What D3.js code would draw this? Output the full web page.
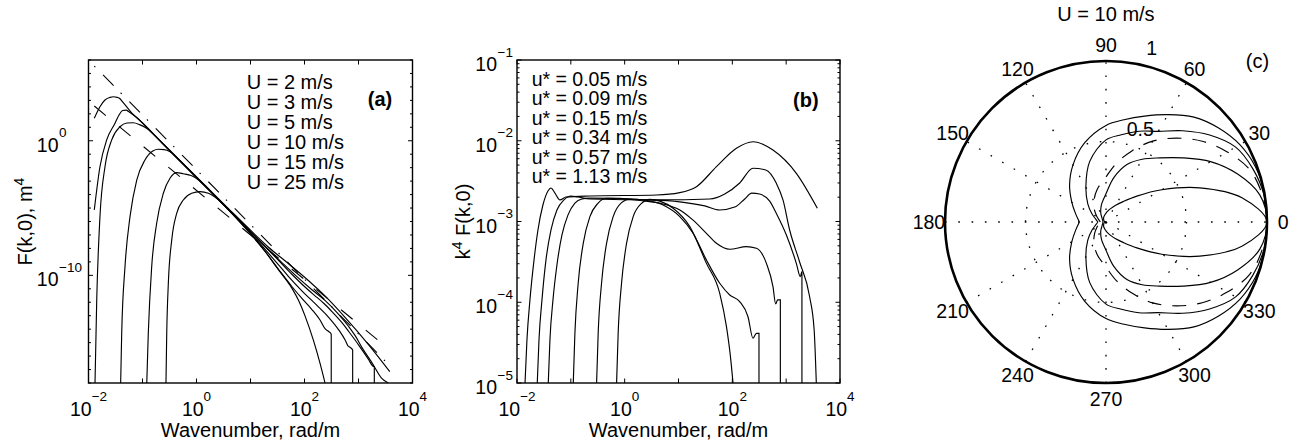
<!DOCTYPE html>
<html>
<head>
<meta charset="utf-8">
<script src="https://cdn.jsdelivr.net/npm/d3@7"></script>
<style>
  html, body { margin: 0; padding: 0; background: #fff; }
  svg { display: block; }
  text { font-family: "Liberation Sans", Arial, Helvetica, sans-serif; fill: #000; }
</style>
</head>
<body>
<svg id="fig" width="1306" height="448"></svg>
<script>
// ---------------- data: panel (a) elevation spectra F(k,0), m^4 ----------------
const windLabels = ["U = 2 m/s", "U = 3 m/s", "U = 5 m/s", "U = 10 m/s", "U = 15 m/s", "U = 25 m/s"];

const kU25 = [0.0128, 0.0163, 0.0202, 0.0251, 0.0288, 0.0339, 0.0383, 0.0428, 0.0507, 0.0628, 0.0811, 0.226, 3.908, 10.57, 21.58, 50.70, 119.1, 242.1, 568.9, 1545, 3793];
const fU25 = [46.8, 339, 1072, 1660, 1862, 1660, 1318, 776, 339, 117, 46.8, 0.794, 9.12e-6, 1.82e-7, 1.23e-8, 7.24e-10, 3.98e-11, 2.82e-12, 7.24e-14, 6.92e-16, 7.08e-18];

const kU15 = [0.0128, 0.0163, 0.0217, 0.0310, 0.0372, 0.0428, 0.0501, 0.0552, 0.0745, 0.1005, 0.1355, 0.226, 4.498, 38.11, 72.28, 137.1, 242.1, 416.9, 657.7, 873.0, 1161, 1778, 2729, 3565];
const fU15 = [7.24e-6, 1.17e-2, 1.15, 20.0, 89.1, 178, 191, 148, 60.3, 20.4, 6.03, 0.724, 4.47e-6, 8.91e-10, 7.94e-11, 8.51e-12, 1.32e-12, 1.45e-13, 1.58e-14, 3.16e-15, 4.27e-16, 3.16e-17, 2.09e-18, 1e-18];

const kU10 = [0.0132, 0.0142, 0.0163, 0.0202, 0.0269, 0.0383, 0.0513, 0.0676, 0.0883, 0.119, 0.161, 0.226, 1.914, 10.57, 30.76, 58.34, 110.9, 169.8, 229.1, 322.1, 494.3, 657.7, 1009, 1545, 1832, 1963, 1963];
const fU10 = [1e-18, 1.48e-12, 2.29e-6, 1.17e-2, 1.15, 11.0, 20.9, 21.9, 15.8, 8.51, 2.88, 0.741, 1.38e-4, 1.41e-7, 1.74e-9, 1.20e-10, 1e-11, 2.29e-12, 8.13e-13, 2.04e-13, 3.02e-14, 6.76e-15, 6.61e-16, 5.37e-17, 1.82e-17, 1.62e-17, 1e-18];

const kU5 = [0.0394, 0.0412, 0.0474, 0.0587, 0.0782, 0.111, 0.158, 0.196, 0.251, 0.318, 0.461, 0.815, 1.914, 5.176, 10.57, 18.66, 33.04, 50.70, 89.54, 182.8, 279.9, 429.5, 568.9, 638.3, 695.0, 779.8, 779.8];
const fU5 = [1e-18, 4.90e-15, 4.37e-10, 2.29e-6, 1.20e-3, 3.72e-2, 0.182, 0.234, 0.219, 0.162, 4.27e-2, 4.37e-3, 1.35e-4, 2.29e-6, 1.12e-7, 8.51e-9, 6.03e-10, 8.13e-11, 7.08e-12, 4.37e-13, 7.59e-14, 8.91e-15, 1.48e-15, 5.75e-16, 4.57e-16, 2.88e-16, 1e-18];

const kU3 = [0.120, 0.128, 0.148, 0.183, 0.243, 0.323, 0.430, 0.570, 0.794, 1.247, 2.203, 5.176, 10.57, 18.66, 33.04, 58.34, 89.54, 137.1, 195.4, 242.1, 279.9, 312.6, 312.6];
const fU3 = [1e-18, 4.90e-15, 4.37e-10, 7.41e-7, 1.26e-4, 1.62e-3, 4.27e-3, 3.55e-3, 2.63e-3, 7.94e-4, 7.76e-5, 2.24e-6, 9.12e-8, 5.89e-9, 2.82e-10, 1.48e-11, 1.91e-12, 2.88e-13, 4.57e-14, 1.05e-14, 6.76e-15, 4.27e-15, 1e-18];

const kU2 = [0.272, 0.281, 0.301, 0.348, 0.430, 0.570, 0.815, 1.161, 1.656, 2.938, 4.498, 7.943, 16.22, 33.04, 58.34, 77.80, 103.0, 145.5, 193.6, 239.9];
const fU2 = [1e-18, 4.90e-15, 2.57e-11, 4.27e-8, 4.07e-6, 3.98e-5, 1.26e-4, 1.66e-4, 1.26e-4, 2.51e-5, 4.37e-6, 3.63e-7, 1.26e-8, 2.57e-10, 1.12e-11, 1.35e-12, 8.91e-14, 1.58e-15, 2.95e-17, 1e-18];

// straight reference slopes drawn across panel (a)
const refSteepK = [0.0128, 3828];
const refSteepF = [3.55e5, 1.86e-17];
const refShallowK = [0.0128, 3097];
const refShallowF = [380, 5.62e-16];

// ---------------- data: panel (b) curvature spectra k^4 F(k,0) ----------------
const ustarLabels = ["u* = 0.05 m/s", "u* = 0.09 m/s", "u* = 0.15 m/s", "u* = 0.34 m/s", "u* = 0.57 m/s", "u* = 1.13 m/s"];

const kUs113 = [0.0128, 0.0141, 0.0153, 0.0174, 0.0207, 0.0245, 0.0303, 0.0376, 0.0428, 0.0507, 0.0628, 0.0811, 0.226, 3.908, 10.57, 21.58, 50.70, 119.1, 242.1, 568.9, 1545, 3793];
const bUs113 = [1.66e-6, 1.0e-5, 3.41e-5, 1.07e-4, 3.33e-4, 7.85e-4, 1.60e-3, 2.39e-3, 2.60e-3, 2.25e-3, 1.85e-3, 2.01e-3, 2.07e-3, 2.13e-3, 2.28e-3, 2.70e-3, 4.78e-3, 8.07e-3, 9.73e-3, 7.67e-3, 3.95e-3, 1.46e-3];

const kUs057 = [0.0238, 0.0256, 0.0291, 0.0345, 0.0428, 0.0552, 0.0745, 0.1005, 0.1355, 0.226, 4.498, 38.11, 72.28, 137.1, 242.1, 416.9, 657.7, 873.0, 1161, 1778, 2729, 3311, 3631];
const bUs057 = [1.0e-5, 3.41e-5, 1.07e-4, 3.33e-4, 7.85e-4, 1.39e-3, 1.85e-3, 2.07e-3, 2.01e-3, 1.90e-3, 1.85e-3, 1.90e-3, 2.19e-3, 3.00e-3, 4.56e-3, 4.35e-3, 2.97e-3, 1.85e-3, 7.85e-4, 3.15e-4, 1.17e-4, 4.53e-5, 1.0e-5];

const kUs034 = [0.0381, 0.0409, 0.0466, 0.0552, 0.0684, 0.0883, 0.119, 0.161, 0.226, 1.914, 10.57, 30.76, 58.34, 110.9, 169.8, 229.1, 322.1, 494.3, 657.7, 1009, 1545, 1832, 1963, 1963];
const bUs034 = [1.0e-5, 3.41e-5, 1.07e-4, 2.89e-4, 6.81e-4, 1.20e-3, 1.69e-3, 1.90e-3, 1.95e-3, 1.87e-3, 1.75e-3, 1.56e-3, 1.39e-3, 1.51e-3, 1.90e-3, 2.25e-3, 2.19e-3, 1.79e-3, 1.26e-3, 6.81e-4, 3.03e-4, 2.07e-4, 2.39e-4, 1.0e-5];

const kUs015 = [0.111, 0.119, 0.137, 0.170, 0.226, 0.318, 0.461, 0.815, 1.914, 5.176, 10.57, 18.66, 33.04, 50.70, 89.54, 182.8, 279.9, 429.5, 568.9, 638.3, 695.0, 779.8, 779.8];
const bUs015 = [1.0e-5, 4.12e-5, 1.72e-4, 5.37e-4, 1.15e-3, 1.68e-3, 1.94e-3, 1.93e-3, 1.82e-3, 1.65e-3, 1.39e-3, 1.04e-3, 7.14e-4, 5.37e-4, 4.53e-4, 4.88e-4, 4.66e-4, 3.03e-4, 1.56e-4, 9.5e-5, 1.07e-4, 1.07e-4, 1.0e-5];

const kUs009 = [0.301, 0.322, 0.372, 0.461, 0.612, 0.875, 1.247, 2.203, 5.176, 10.57, 18.66, 33.04, 58.34, 89.54, 137.1, 195.4, 242.1, 279.9, 312.6, 312.6];
const bUs009 = [1.0e-5, 4.12e-5, 1.72e-4, 5.37e-4, 1.15e-3, 1.71e-3, 1.90e-3, 1.85e-3, 1.60e-3, 1.15e-3, 7.14e-4, 3.33e-4, 1.72e-4, 1.23e-4, 1.02e-4, 6.62e-5, 3.58e-5, 4.12e-5, 4.12e-5, 1.0e-5];

const kUs005 = [0.708, 0.757, 0.875, 1.084, 1.439, 2.061, 2.938, 4.498, 7.943, 16.22, 33.04, 58.34, 77.80, 92.26, 103.0];
const bUs005 = [1.0e-5, 4.12e-5, 1.72e-4, 5.37e-4, 1.15e-3, 1.68e-3, 1.88e-3, 1.79e-3, 1.46e-3, 8.63e-4, 3.03e-4, 1.29e-4, 4.98e-5, 2.12e-5, 1.0e-5];

// ---------------- data: panel (c) normalised angular spreading, U = 10 m/s ----------------
const spreadAngles = [0, 10, 20, 30, 40, 50, 60, 70, 80, 90, 105, 120, 135, 150, 165, 180];
const spreadA = [1.00, 1.00, 0.99, 0.96, 0.91, 0.85, 0.77, 0.70, 0.645, 0.60, 0.51, 0.41, 0.32, 0.245, 0.195, 0.165];
const spreadB = [1.00, 0.995, 0.97, 0.93, 0.84, 0.74, 0.65, 0.60, 0.55, 0.51, 0.39, 0.25, 0.16, 0.10, 0.065, 0.05];
const spreadDash = [1.00, 0.985, 0.95, 0.87, 0.78, 0.68, 0.58, 0.47, 0.37, 0.28, 0.21, 0.15, 0.10, 0.065, 0.045, 0.035];
const spreadC = [1.00, 0.97, 0.87, 0.75, 0.62, 0.52, 0.45, 0.38, 0.28, 0.175, 0.11, 0.065, 0.035, 0.025, 0.02, 0.02];
const spreadD = [1.00, 0.86, 0.62, 0.40, 0.25, 0.165, 0.12, 0.09, 0.07, 0.055, 0.04, 0.03, 0.02, 0.015, 0.01, 0.01];

const polarAngleTicks = [0, 30, 60, 90, 120, 150, 180, 210, 240, 270, 300, 330];
const polarRadiusTicks = [0.5, 1];

// ---------------- axis ticks ----------------
const xTickExp = [-2, -1, 0, 1, 2, 3, 4];
const xLabelExp = [-2, 0, 2, 4];
const aYLabelExp = [0, -10];
const bYLabelExp = [-1, -2, -3, -4, -5];

// ---------------- drawing ----------------
const svg = d3.select("#fig");
const defs = svg.append("defs");
const FONT = 19.5, SUP = 13.5;

function zip(a, b) { return a.map((v, i) => [v, b[i]]); }

function logPanel(o) {
  const x = d3.scaleLog().domain(o.xDomain).range([o.left, o.right]);
  const y = d3.scaleLog().domain(o.yDomain).range([o.bottom, o.top]);
  defs.append("clipPath").attr("id", o.id).append("rect")
    .attr("x", o.left).attr("y", o.top)
    .attr("width", o.right - o.left).attr("height", o.bottom - o.top);
  const g = svg.append("g");
  const axis = svg.append("g").attr("stroke", "#000").attr("fill", "none");

  // x ticks, one per decade, inward on bottom and top
  xTickExp.forEach(e => {
    const px = x(Math.pow(10, e));
    axis.append("line").attr("x1", px).attr("x2", px).attr("y1", o.bottom).attr("y2", o.bottom - 4.5).attr("stroke-width", 1);
    axis.append("line").attr("x1", px).attr("x2", px).attr("y1", o.top).attr("y2", o.top + 4.5).attr("stroke-width", 1);
  });
  // y ticks
  o.yMajor.forEach(v => {
    const py = y(v);
    axis.append("line").attr("x1", o.left).attr("x2", o.left + 4.5).attr("y1", py).attr("y2", py).attr("stroke-width", 1);
    axis.append("line").attr("x1", o.right).attr("x2", o.right - 4.5).attr("y1", py).attr("y2", py).attr("stroke-width", 1);
  });
  o.yMinor.forEach(v => {
    const py = y(v);
    axis.append("line").attr("x1", o.left).attr("x2", o.left + 2.5).attr("y1", py).attr("y2", py).attr("stroke-width", 1);
    axis.append("line").attr("x1", o.right).attr("x2", o.right - 2.5).attr("y1", py).attr("y2", py).attr("stroke-width", 1);
  });
  axis.append("rect").attr("x", o.left).attr("y", o.top)
    .attr("width", o.right - o.left).attr("height", o.bottom - o.top)
    .attr("stroke-width", 1.4);

  // x tick labels 10^n
  xLabelExp.forEach(e => {
    const t = svg.append("text").attr("x", x(Math.pow(10, e))).attr("y", 415.5)
      .attr("text-anchor", "middle").attr("font-size", FONT);
    t.append("tspan").text("10");
    t.append("tspan").attr("dy", -15).attr("font-size", SUP).text(e < 0 ? "\u2212" + (-e) : String(e));
  });
  // y tick labels 10^n
  o.yLabelExp.forEach(e => {
    const py = y(Math.pow(10, e));
    svg.append("text").attr("x", o.labelRight).attr("y", py + 11)
      .attr("text-anchor", "end").attr("font-size", FONT).text("10");
    svg.append("text").attr("x", o.labelRight + 0.5).attr("y", py - 3.5)
      .attr("font-size", SUP).text(e < 0 ? "\u2212" + (-e) : String(e));
  });
  // x axis title
  svg.append("text").attr("x", (o.left + o.right) / 2).attr("y", 436.5)
    .attr("text-anchor", "middle").attr("font-size", 20).text("Wavenumber, rad/m");

  return { g, x, y, clip: "url(#" + o.id + ")" };
}

// ---- panel (a)
const aMinor = d3.range(-18, 7).map(e => Math.pow(10, e)).filter(v => aYLabelExp.indexOf(Math.round(Math.log10(v))) < 0);
const pa = logPanel({
  id: "clipA", left: 88.5, right: 412.5, top: 60, bottom: 383,
  xDomain: [1e-2, 1e4], yDomain: [1e-18, 1e6],
  yMajor: aYLabelExp.map(e => Math.pow(10, e)), yMinor: aMinor,
  yLabelExp: aYLabelExp, labelRight: 58.5
});
const lineA = d3.line().x(d => pa.x(d[0])).y(d => pa.y(d[1])).curve(d3.curveMonotoneX);
const aSeries = [[kU25, fU25], [kU15, fU15], [kU10, fU10], [kU5, fU5], [kU3, fU3], [kU2, fU2]];
const aPlot = pa.g.append("g").attr("clip-path", pa.clip);
aSeries.forEach(([k, f]) => {
  aPlot.append("path").attr("d", lineA(zip(k, f)))
    .attr("fill", "none").attr("stroke", "#000").attr("stroke-width", 1.15);
});
const straight = d3.line().x(d => pa.x(d[0])).y(d => pa.y(d[1]));
aPlot.append("path").attr("d", straight(zip(refSteepK, refSteepF)))
  .attr("fill", "none").attr("stroke", "#000").attr("stroke-width", 1.1)
  .attr("stroke-dasharray", "15,10,1.5,11").attr("stroke-dashoffset", 25);
aPlot.append("path").attr("d", straight(zip(refShallowK, refShallowF)))
  .attr("fill", "none").attr("stroke", "#000").attr("stroke-width", 1.1)
  .attr("stroke-dasharray", "15,17");

windLabels.forEach((s, i) => {
  svg.append("text").attr("x", 246.7).attr("y", 88.5 + 20.1 * i).attr("font-size", 20).text(s);
});
svg.append("text").attr("x", 380).attr("y", 106).attr("text-anchor", "middle")
  .attr("font-size", 20).attr("font-weight", "bold").text("(a)");
{
  const t = svg.append("text").attr("transform", "translate(31.5,221.5) rotate(-90)")
    .attr("text-anchor", "middle").attr("font-size", 20);
  t.append("tspan").text("F(k,0), m");
  t.append("tspan").attr("dy", -8).attr("font-size", 14).text("4");
}

// ---- panel (b)
const bMinor = [];
[-5, -4, -3, -2].forEach(e => [2, 3, 4, 5, 6, 7, 8, 9].forEach(m => bMinor.push(m * Math.pow(10, e))));
const pb = logPanel({
  id: "clipB", left: 517, right: 840, top: 60, bottom: 383,
  xDomain: [1e-2, 1e4], yDomain: [1e-5, 1e-1],
  yMajor: bYLabelExp.map(e => Math.pow(10, e)), yMinor: bMinor,
  yLabelExp: bYLabelExp, labelRight: 497
});
const lineB = d3.line().x(d => pb.x(d[0])).y(d => pb.y(d[1])).curve(d3.curveMonotoneX);
const bSeries = [[kUs113, bUs113], [kUs057, bUs057], [kUs034, bUs034], [kUs015, bUs015], [kUs009, bUs009], [kUs005, bUs005]];
const bPlot = pb.g.append("g").attr("clip-path", pb.clip);
bSeries.forEach(([k, b]) => {
  bPlot.append("path").attr("d", lineB(zip(k, b)))
    .attr("fill", "none").attr("stroke", "#000").attr("stroke-width", 1.15);
});
ustarLabels.forEach((s, i) => {
  svg.append("text").attr("x", 531.7).attr("y", 86 + 19.4 * i).attr("font-size", 19.5).text(s);
});
svg.append("text").attr("x", 805.8).attr("y", 107).attr("text-anchor", "middle")
  .attr("font-size", 20).attr("font-weight", "bold").text("(b)");
{
  const t = svg.append("text").attr("transform", "translate(470,221.5) rotate(-90)")
    .attr("text-anchor", "middle").attr("font-size", 20);
  t.append("tspan").text("k");
  t.append("tspan").attr("dy", -8).attr("font-size", 14).text("4");
  t.append("tspan").attr("dy", 8).text(" F(k,0)");
}

// ---- panel (c): polar plot
const pc = { cx: 1106, cy: 222, R: 161 };
const rScale = d3.scaleLinear().domain([0, 1]).range([0, pc.R]);
const pg = svg.append("g").attr("transform", "translate(" + pc.cx + "," + pc.cy + ")");
const rad = a => a * Math.PI / 180;

// dotted spokes through the centre every 30 degrees
[0, 30, 60, 90, 120, 150].forEach(a => {
  const dx = rScale(1) * Math.cos(rad(a)), dy = -rScale(1) * Math.sin(rad(a));
  pg.append("line").attr("x1", -dx).attr("y1", -dy).attr("x2", dx).attr("y2", dy)
    .attr("stroke", "#000").attr("stroke-width", 1.3).attr("stroke-dasharray", "1.6,11.7");
});
polarRadiusTicks.forEach(r => {
  pg.append("circle").attr("r", rScale(r)).attr("fill", "none")
    .attr("stroke", "#000").attr("stroke-width", 1.3).attr("stroke-dasharray", "1.6,11.7");
});
pg.append("circle").attr("r", rScale(1)).attr("fill", "none")
  .attr("stroke", "#000").attr("stroke-width", 2.6);

// each spreading curve is symmetric about the wind direction
function spreadPoints(rs) {
  const upper = spreadAngles.map((a, i) => [a, rs[i]]);
  return upper.slice().reverse().concat(upper.slice(1).map(([a, r]) => [-a, r]));
}
const radial = d3.lineRadial()
  .angle(d => rad(90 - d[0]))
  .radius(d => rScale(d[1]))
  .curve(d3.curveCatmullRom.alpha(0.5));
[spreadA, spreadB, spreadC, spreadD].forEach(rs => {
  pg.append("path").attr("d", radial(spreadPoints(rs)))
    .attr("fill", "none").attr("stroke", "#000").attr("stroke-width", 1.15);
});
pg.append("path").attr("d", radial(spreadPoints(spreadDash)))
  .attr("fill", "none").attr("stroke", "#000").attr("stroke-width", 1.15)
  .attr("stroke-dasharray", "14,11");

polarAngleTicks.forEach(a => {
  const r = rScale(1.1);
  pg.append("text").attr("x", r * Math.cos(rad(a))).attr("y", -r * Math.sin(rad(a)))
    .attr("dy", "0.36em").attr("text-anchor", "middle").attr("font-size", FONT).text(String(a));
});
polarRadiusTicks.forEach(v => {
  const r = rScale(v * 1.04 + 0.03);
  pg.append("text").attr("x", r * Math.cos(rad(76.5))).attr("y", -r * Math.sin(rad(76.5)))
    .attr("font-size", FONT).text(String(v));
});
svg.append("text").attr("x", pc.cx).attr("y", 21).attr("text-anchor", "middle")
  .attr("font-size", 20).text("U = 10 m/s");
svg.append("text").attr("x", 1257.5).attr("y", 67.5).attr("text-anchor", "middle")
  .attr("font-size", 20).text("(c)");
</script>
</body>
</html>
